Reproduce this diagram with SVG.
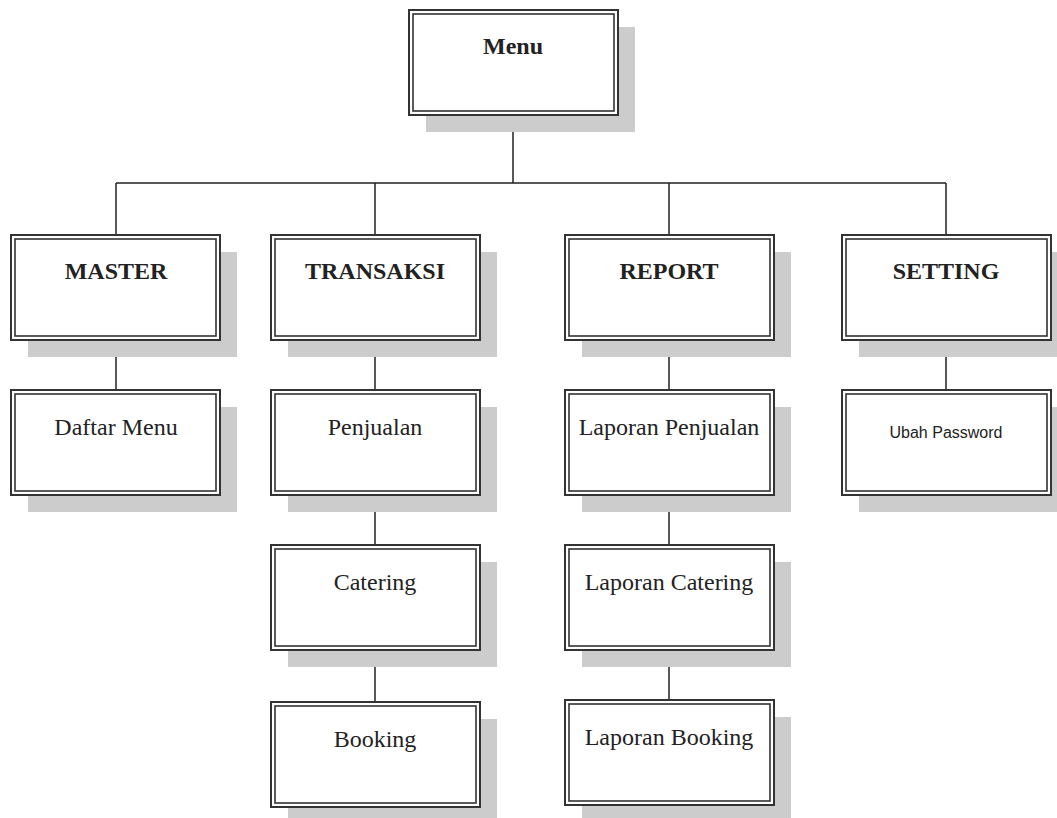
<svg xmlns="http://www.w3.org/2000/svg" width="1057" height="818" viewBox="0 0 1057 818">
<style>
.sh{fill:#cccccc;stroke:none}
.bo{fill:#ffffff;stroke:#333333;stroke-width:2}
.bi{fill:none;stroke:#333333;stroke-width:1.6}
.t{font-family:"Liberation Serif",serif;font-size:24px;fill:#222;text-anchor:middle}
.b{font-weight:bold}
.a{font-family:"Liberation Sans",sans-serif;font-size:16px;fill:#222;text-anchor:middle}
.c{stroke:#222;stroke-width:1.5;fill:none}
</style>
<defs>
<g id="box">
<rect class="sh" x="17" y="17" width="209" height="105"/>
<rect class="bo" x="0" y="0" width="209" height="105"/>
<rect class="bi" x="4" y="4" width="201" height="97"/>
</g>
</defs>
<rect width="1057" height="818" fill="#fff"/>
<g id="connectors">
<path class="c" d="M513 115V183M116 183H946M116 183V235M375 183V235M669 183V235M946 183V235"/>
<path class="c" d="M116 340V390M375 340V390M375 495V545M375 650V702M669 340V390M669 495V545M669 650V700M946 340V390"/>
</g>
<g id="menu"><use href="#box" x="409" y="10"/><text class="t b" x="513" y="54">Menu</text></g>
<g id="master"><use href="#box" x="11" y="235"/><text class="t b" x="116" y="279">MASTER</text></g>
<g id="transaksi"><use href="#box" x="271" y="235"/><text class="t b" x="375" y="279">TRANSAKSI</text></g>
<g id="report"><use href="#box" x="565" y="235"/><text class="t b" x="669" y="279">REPORT</text></g>
<g id="setting"><use href="#box" x="842" y="235"/><text class="t b" x="946" y="279">SETTING</text></g>
<g id="daftar-menu"><use href="#box" x="11" y="390"/><text class="t" x="116" y="435">Daftar Menu</text></g>
<g id="penjualan"><use href="#box" x="271" y="390"/><text class="t" x="375" y="435">Penjualan</text></g>
<g id="catering"><use href="#box" x="271" y="545"/><text class="t" x="375" y="590">Catering</text></g>
<g id="booking"><use href="#box" x="271" y="702"/><text class="t" x="375" y="747">Booking</text></g>
<g id="laporan-penjualan"><use href="#box" x="565" y="390"/><text class="t" x="669" y="435">Laporan Penjualan</text></g>
<g id="laporan-catering"><use href="#box" x="565" y="545"/><text class="t" x="669" y="590">Laporan Catering</text></g>
<g id="laporan-booking"><use href="#box" x="565" y="700"/><text class="t" x="669" y="745">Laporan Booking</text></g>
<g id="ubah-password"><use href="#box" x="842" y="390"/><text class="a" x="946" y="438">Ubah Password</text></g>
</svg>
